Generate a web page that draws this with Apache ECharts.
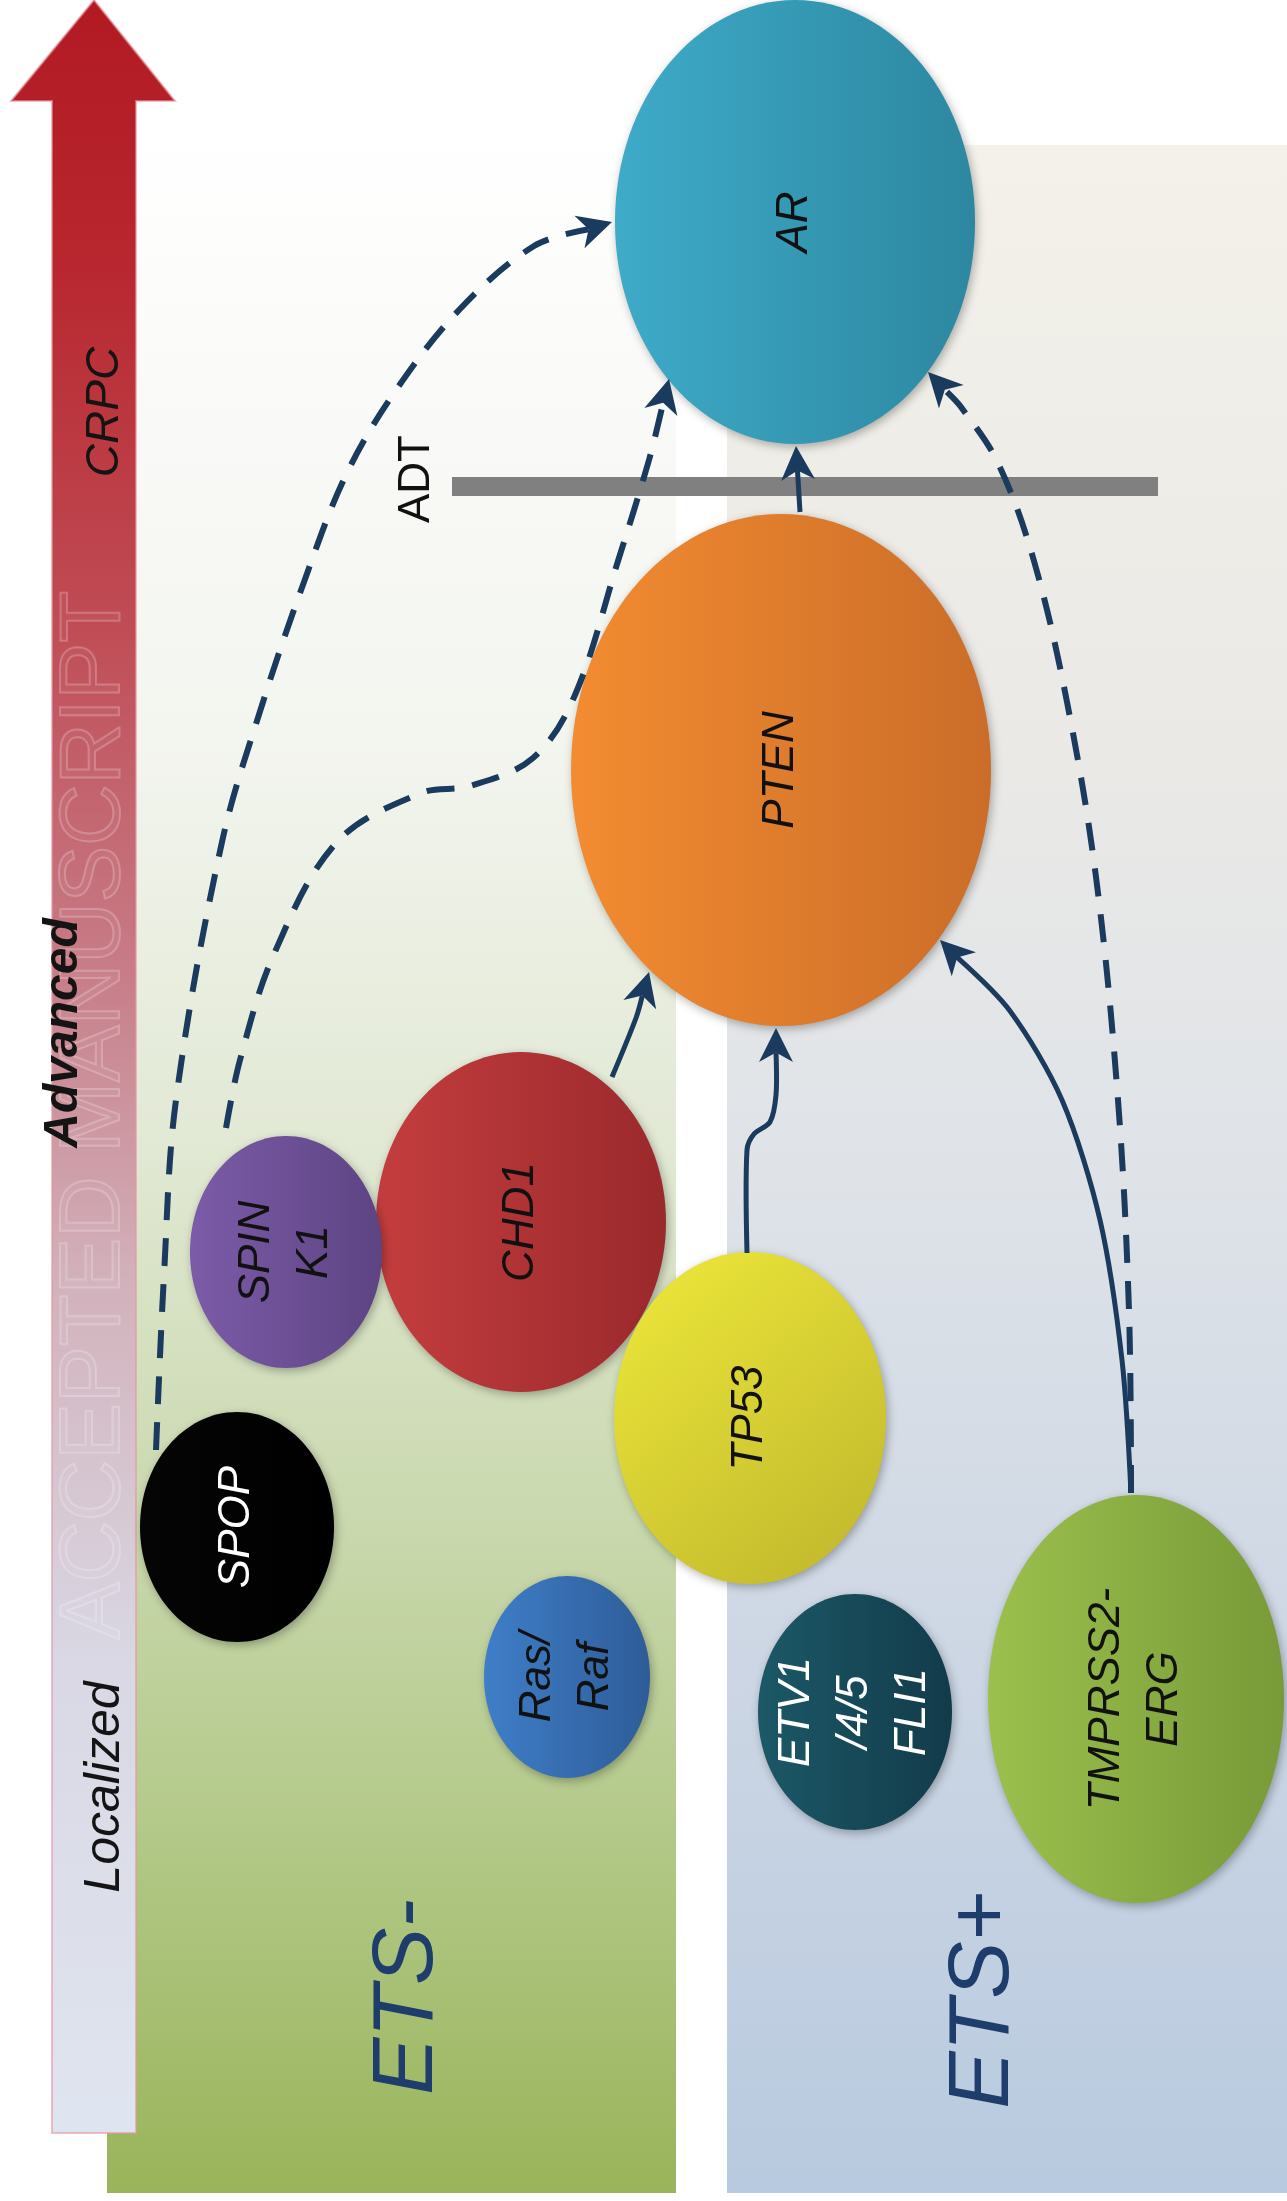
<!DOCTYPE html>
<html><head><meta charset="utf-8">
<script src="https://cdn.jsdelivr.net/npm/echarts@6/dist/echarts.min.js"></script>
<style>html,body{margin:0;padding:0;background:#fff}#c{width:1287px;height:2201px}</style>
</head><body><div id="c"></div>
<script>
// ---------- data ----------
const nodeNames = ['AR','PTEN','CHD1','SPIN\nK1','SPOP','TP53','Ras/\nRaf','ETV1\n/4/5\nFLI1','TMPRSS2-\nERG'];
const nodeX  = [795, 781, 521, 286, 237, 750, 567, 855, 1136];
const nodeY  = [222, 770, 1222, 1252, 1527, 1418, 1677, 1712, 1699];
const nodeRx = [180, 210, 145, 96, 97, 136, 83, 97, 148];
const nodeRy = [222, 256, 170, 116, 115, 166, 101, 118, 204];

const linkSpopToAr   = [[156,1450],[164,1275],[176,1100],[222,842],[263,702],[304,582],[345,477],[394,393],[460,309],[534,246],[612,222]];
const linkSpinkToAr  = [[226,1128],[240,1060],[274,954],[337,842],[421,793],[470,786],[533,758],[575,695],[618,561],[649,460],[669,379]];
const linkTmprssToAr = [[1131,1493],[1129,1311],[1118,1100],[1096,877],[1067,702],[1034,561],[998,463],[961,407],[928,372]];
const linkPtenToAr   = [[800,512],[796,446]];
const linkChd1ToPten = [[612,1077],[636,1018],[649,972]];
const linkTp53ToPten = [[747,1253],[747,1150],[754,1134],[770,1122],[776,1095],[776,1028]];
const linkTmprssToPten = [[1131,1493],[1122,1360],[1100,1220],[1062,1100],[1010,1011],[940,940]];
const linkPaths  = [linkSpopToAr, linkSpinkToAr, linkTmprssToAr, linkPtenToAr, linkChd1ToPten, linkTp53ToPten, linkTmprssToPten];
const linkDashed = [true, true, true, false, false, false, false];

const stageLabels = ['CRPC','Advanced','Localized'];
const stageY = [412, 1033, 1787];
const groupLabels = ['ETS-','ETS+'];
const groupLabelX = [408, 984];
const groupLabelY = [1997, 2000];
const therapyLabel = 'ADT';
const watermarkText = 'ACCEPTED MANUSCRIPT';

// ---------- styles ----------
const nodeStyles = [
  {c0:'#3eabc9', c1:'#2d87a0', tc:'#111'},
  {c0:'#f38c31', c1:'#cb6d29', tc:'#111'},
  {c0:'#c43d3e', c1:'#9a292c', tc:'#111'},
  {c0:'#7c5ba8', c1:'#5d4483', tc:'#111'},
  {c0:'#050505', c1:'#000000', tc:'#fff'},
  {c0:'#eee93a', c1:'#bfb52c', tc:'#111', diag:true},
  {c0:'#3f7ec8', c1:'#2e5c98', tc:'#111'},
  {c0:'#1c5867', c1:'#123b4a', tc:'#fff'},
  {c0:'#9cc04d', c1:'#789a38', tc:'#111'}
];
const lineColor = '#1a3a5e';

const chart = echarts.init(document.getElementById('c'));
const W = 1287, H = 2201;

function lg(x2, y2, stops){
  return new echarts.graphic.LinearGradient(0,0,x2,y2, stops.map(s=>({offset:s[0], color:s[1]})));
}

function renderPanels(params, api){
  const P = (x,y)=>api.coord([x,y]);
  const g1a = P(107,120), g1b = P(676,2193);
  const g2a = P(727,145), g2b = P(1287,2193);
  const children = [
    {type:'rect', shape:{x:g1a[0], y:g1a[1], width:g1b[0]-g1a[0], height:g1b[1]-g1a[1]},
     style:{fill: lg(0,1,[[0,'#ffffff'],[0.3,'#f3f5ef'],[0.5,'#e1e8d3'],[0.68,'#c9d8ad'],[0.85,'#afc682'],[1,'#99b45a']])}},
    {type:'rect', shape:{x:g2a[0], y:g2a[1], width:g2b[0]-g2a[0], height:g2b[1]-g2a[1]},
     style:{fill: lg(0,1,[[0,'#f3f1e9'],[0.3,'#eae9e6'],[0.5,'#dfe3e8'],[0.75,'#ccd6e4'],[1,'#b8cadf']])}}
  ];
  for (let i=0;i<groupLabels.length;i++){
    const c = P(groupLabelX[i], groupLabelY[i]);
    children.push({type:'text', x:c[0], y:c[1], rotation:Math.PI/2,
      style:{text:groupLabels[i], fill:'#1f3d6c', font:'italic 86px "Liberation Sans"', align:'center', verticalAlign:'middle'}});
  }
  return {type:'group', children};
}

function renderStageArrow(params, api){
  const P = (x,y)=>api.coord([x,y]);
  const pts = [P(94,0),P(175,101),P(136,101),P(136,2133),P(52,2133),P(52,101),P(11,101)];
  const wm = P(96,1115);
  const children = [
    {type:'polygon', shape:{points:pts},
     style:{fill: lg(0,1,[[0,'#b21a22'],[0.12,'#b8262e'],[0.3,'#c04e57'],[0.45,'#c77b86'],[0.6,'#d2b1bb'],[0.78,'#d9d8e4'],[1,'#dfe5f0']]),
            stroke:'rgba(230,150,160,0.6)', lineWidth:2}},
    {type:'text', x:wm[0], y:wm[1], rotation:Math.PI/2,
     style:{text:watermarkText, fill:'rgba(255,255,255,0.04)', stroke:'rgba(255,255,255,0.22)', lineWidth:2, font:'85px "Liberation Sans"', align:'center', verticalAlign:'middle'}}
  ];
  const fonts = ['italic 46px "Liberation Sans"','italic bold 48px "Liberation Sans"','italic 50px "Liberation Sans"'];
  const xs = [105, 64, 105];
  for (let i=0;i<stageLabels.length;i++){
    const c = P(xs[i], stageY[i]);
    children.push({type:'text', x:c[0], y:c[1], rotation:Math.PI/2,
      style:{text:stageLabels[i], fill:'#141414', font:fonts[i], align:'center', verticalAlign:'middle'}});
  }
  return {type:'group', children};
}

function renderAdt(params, api){
  const a = api.coord([452,477]), b = api.coord([1158,496]);
  const t = api.coord([417,479]);
  return {type:'group', children:[
    {type:'rect', shape:{x:a[0], y:a[1], width:b[0]-a[0], height:b[1]-a[1]}, style:{fill:'#808080'}},
    {type:'text', x:t[0], y:t[1], rotation:Math.PI/2,
     style:{text:therapyLabel, fill:'#111', font:'44px "Liberation Sans"', align:'center', verticalAlign:'middle'}}
  ]};
}

function renderLink(params, api){
  const i = params.dataIndex;
  const pts = linkPaths[i].map(p=>api.coord(p));
  const n = pts.length;
  const tip = pts[n-1], prev = pts[n-2];
  let dx = tip[0]-prev[0], dy = tip[1]-prev[1];
  const L = Math.hypot(dx,dy); dx/=L; dy/=L;
  const hl = 34, hw = 17;
  const px = -dy, py = dx;
  const bx = tip[0]-dx*hl, by = tip[1]-dy*hl;
  const nx = tip[0]-dx*hl*0.72, ny = tip[1]-dy*hl*0.72;
  const linePts = pts.slice(0,n-1).concat([[nx,ny]]);
  const dashed = linkDashed[i];
  return {type:'group', children:[
    {type:'polyline', shape:{points:linePts, smooth:dashed?0.35:0.3},
     style:{stroke:lineColor, lineWidth:dashed?6:5, lineDash:dashed?[28,18]:null, fill:null}},
    {type:'polygon', shape:{points:[tip,[bx+px*hw,by+py*hw],[nx,ny],[bx-px*hw,by-py*hw]]},
     style:{fill:lineColor}}
  ]};
}

function renderNode(params, api){
  const i = params.dataIndex;
  const c = api.coord([api.value(0), api.value(1)]);
  const s = api.size([api.value(2), api.value(3)]);
  const st = nodeStyles[i];
  return {type:'group', children:[
    {type:'ellipse', shape:{cx:c[0], cy:c[1], rx:s[0], ry:s[1]},
     style:{fill: lg(1, st.diag?1:0, [[0,st.c0],[1,st.c1]]), shadowBlur:10, shadowColor:'rgba(0,0,0,0.3)', shadowOffsetX:2, shadowOffsetY:3}},
    {type:'text', x:c[0], y:c[1], rotation:Math.PI/2,
     style:{text:nodeNames[i], fill:st.tc, font:'italic 44px "Liberation Sans"', align:'center', verticalAlign:'middle', lineHeight:58}}
  ]};
}

chart.setOption({
  animation:false,
  grid:{left:0,right:0,top:0,bottom:0},
  xAxis:{type:'value',min:0,max:W,show:false},
  yAxis:{type:'value',min:0,max:H,inverse:true,show:false},
  series:[
    {type:'custom', name:'panels', clip:false, data:[[0,0]], renderItem:renderPanels, z:1},
    {type:'custom', name:'stage', clip:false, data:[[0,0]], renderItem:renderStageArrow, z:2},
    {type:'custom', name:'adt', clip:false, data:[[0,0]], renderItem:renderAdt, z:3},
    {type:'custom', name:'nodes', clip:false, data:nodeNames.map((n,i)=>[nodeX[i],nodeY[i],nodeRx[i],nodeRy[i]]), renderItem:renderNode, z:4},
    {type:'custom', name:'links', clip:false, data:linkPaths.map(p=>p[0]), renderItem:renderLink, z:5}
  ]
});
</script></body></html>
